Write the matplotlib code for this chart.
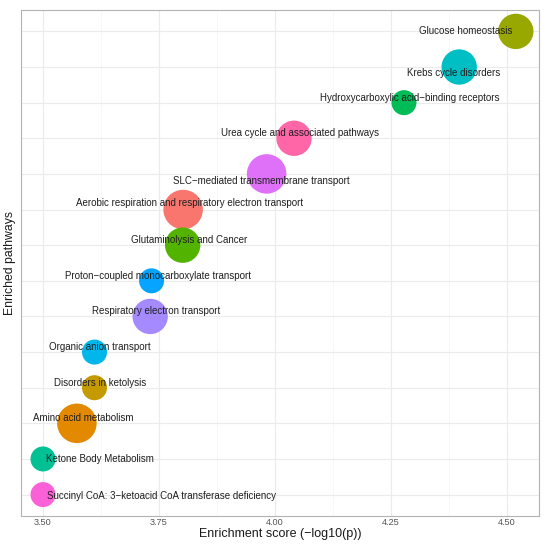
import matplotlib.pyplot as plt
import numpy as np

## Global style
plt.rcParams['font.family'] = ['Liberation Sans', 'DejaVu Sans']
plt.rcParams['axes.linewidth'] = 0.8

## data, top to bottom
pathways = ['Glucose homeostasis',
            'Krebs cycle disorders',
            'Hydroxycarboxylic acid\u2212binding receptors',
            'Urea cycle and associated pathways',
            'SLC\u2212mediated transmembrane transport',
            'Aerobic respiration and respiratory electron transport',
            'Glutaminolysis and Cancer',
            'Proton\u2212coupled monocarboxylate transport',
            'Respiratory electron transport',
            'Organic anion transport',
            'Disorders in ketolysis',
            'Amino acid metabolism',
            'Ketone Body Metabolism',
            'Succinyl CoA: 3\u2212ketoacid CoA transferase deficiency']
score = [4.519, 4.397, 4.278, 4.041, 3.982, 3.802, 3.801,
         3.734, 3.731, 3.611, 3.611, 3.573, 3.500, 3.500]
count = [4, 4, 2, 4, 5, 5, 4, 2, 4, 2, 2, 5, 2, 2]
xticks = [3.50, 3.75, 4.00, 4.25, 4.50]

## label offsets in points (ggrepel-like placement)
offsets = [(-36, 0), (-4, -4), (4, 3.5), (4, 4), (-4, -5), (4.5, 5), (4.5, 4),
           (4.5, 3.5), (4, 4), (4, 3.5), (4, 3.5), (4.5, 4), (41, 0), (85, -0.7)]

## ggplot hue palette, assigned alphabetically
hue = ['#F8766D', '#E38900', '#C49A00', '#99A800', '#53B400', '#00BC56', '#00C094',
       '#00BFC4', '#00B6EB', '#06A4FF', '#A58AFF', '#DF70F8', '#FB61D7', '#FF66A8']
colour = {name: hue[i] for i, name in enumerate(sorted(pathways, key=str.lower))}

n = len(pathways)
ypos = np.arange(n)[::-1] + 1

fig = plt.figure(figsize=(5.5, 5.44), dpi=100)
ax = fig.add_axes([0.0382, 0.0515, 0.9418, 0.9301])

ax.scatter(score, ypos, s=np.array(count) * 162,
           c=[colour[p] for p in pathways], linewidths=0, zorder=3)

for i, name in enumerate(pathways):
    ax.annotate(name, (score[i], ypos[i]), xytext=offsets[i], textcoords='offset points',
                ha='center', va='center', fontsize=7, color='#1F1F1F', zorder=4)

## axes
ax.set_xticks(xticks)
ax.set_xticklabels(['%.2f' % t for t in xticks])
ax.set_xticks([3.625, 3.875, 4.125, 4.375], minor=True)
ax.set_yticks(ypos)
ax.set_yticklabels([])
ax.set_xlim(3.4526, 4.569)
ax.set_ylim(0.4, n + 0.6)
ax.tick_params(axis='both', which='both', length=0, labelsize=6.6, labelcolor='#555555', pad=1.5)

ax.grid(which='major', color='#EBEBEB', linewidth=0.8, zorder=0)
ax.grid(which='minor', axis='x', color='#F4F4F4', linewidth=0.5, zorder=0)
ax.set_axisbelow(True)
for sp in ax.spines.values():
    sp.set_color('#B3B3B3')

ax.set_xlabel('Enrichment score (\u2212log10(p))', fontsize=9, color='#1A1A1A', labelpad=0.5)
ax.set_ylabel('Enriched pathways', fontsize=8.8, color='#1A1A1A', labelpad=2)

fig.savefig('out.png', dpi=100, facecolor='white')
